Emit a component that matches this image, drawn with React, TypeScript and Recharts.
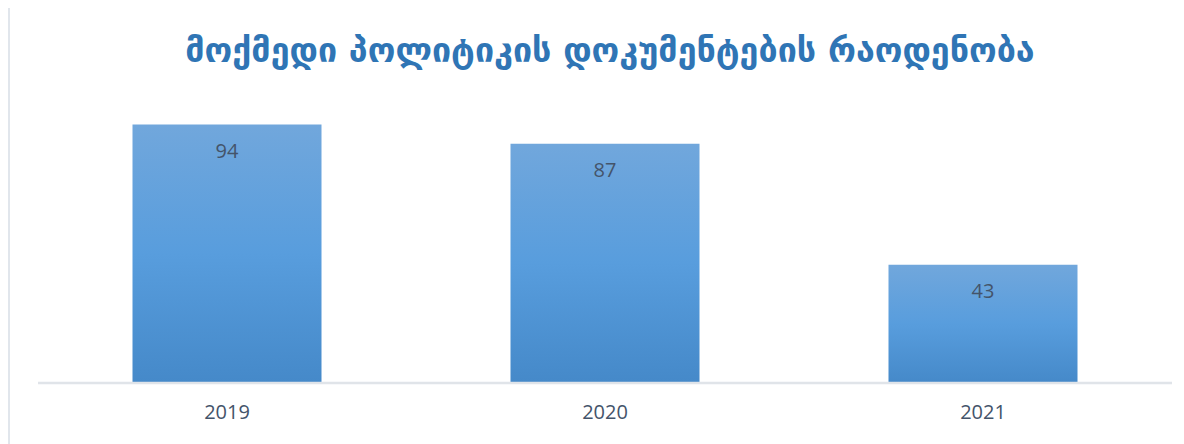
import { BarChart, Bar, XAxis, YAxis, LabelList } from 'recharts';

const years = ['2019', '2020', '2021'];
const documentCounts = [94, 87, 43];
const chartTitle = 'მოქმედი პოლიტიკის დოკუმენტების რაოდენობა';

const data = years.map((year, i) => ({ year, count: documentCounts[i] }));

const TEXT_GRAY = '#44546a';

const App = () => {
  return (
    <div
      style={{
        position: 'relative',
        marginTop: -2,
        width: 1174,
        height: 436,
        borderTop: '2px solid #e1e6ec',
        borderLeft: '2px solid #e1e6ec',
        background: '#fff',
        overflow: 'hidden',
      }}
    >
      <div
        style={{
          position: 'absolute',
          top: 22,
          left: 0,
          width: 1200,
          textAlign: 'center',
          fontFamily: 'DejaVu Sans, sans-serif',
          fontWeight: 'bold',
          fontSize: 34,
          color: '#2f75b5',
          whiteSpace: 'nowrap',
        }}
      >
        {chartTitle}
      </div>
      <BarChart
        width={1174}
        height={436}
        data={data}
        margin={{ top: 100, right: 12, bottom: 21, left: 28 }}
        barCategoryGap="25%"
      >
        <defs>
          <linearGradient id="barFill" x1="0" y1="0" x2="0" y2="1">
            <stop offset="0%" stopColor="#71a7dc" />
            <stop offset="50%" stopColor="#589ddd" />
            <stop offset="100%" stopColor="#4589c9" />
          </linearGradient>
        </defs>
        <YAxis hide domain={[0, 100]} />
        <XAxis
          dataKey="year"
          height={40}
          axisLine={{ stroke: '#e0e4e9', strokeWidth: 2.5 }}
          tickLine={false}
          tick={{ fontSize: 20, fill: TEXT_GRAY, fontFamily: 'Open Sans, sans-serif' }}
          dy={14}
        />
        <Bar dataKey="count" fill="url(#barFill)" isAnimationActive={false}>
          <LabelList
            dataKey="count"
            position="insideTop"
            offset={19}
            style={{ fontSize: 20, fill: TEXT_GRAY, fontFamily: 'Open Sans, sans-serif' }}
          />
        </Bar>
      </BarChart>
    </div>
  );
};

export default App;
